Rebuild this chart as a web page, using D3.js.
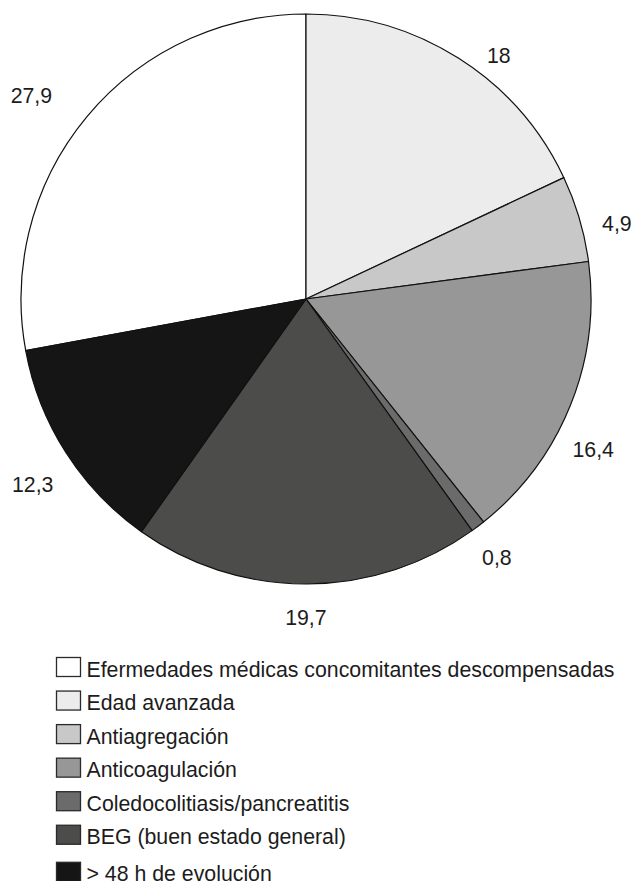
<!DOCTYPE html>
<html>
<head>
<meta charset="utf-8">
<script src="https://cdn.jsdelivr.net/npm/d3@7"></script>
<style>
  html, body { margin: 0; padding: 0; background: #ffffff; }
  svg { display: block; }
  text { font-family: "Liberation Sans", Arial, Helvetica, sans-serif; fill: #1c1c1c; }
</style>
</head>
<body>
<svg id="chart" width="636" height="881"></svg>
<script>
// ---- Data ----
const categories = [
  "Efermedades médicas concomitantes descompensadas",
  "Edad avanzada",
  "Antiagregación",
  "Anticoagulación",
  "Coledocolitiasis/pancreatitis",
  "BEG (buen estado general)",
  "> 48 h de evolución"
];
const values = [27.9, 18, 4.9, 16.4, 0.8, 19.7, 12.3];
const valueLabels = ["27,9", "18", "4,9", "16,4", "0,8", "19,7", "12,3"];

// ---- Styles / layout ----
const colors = ["#ffffff", "#ebeceb", "#c7c8c7", "#979797", "#6b6b6b", "#4c4c4b", "#151515"];
const labelAngleNudge = [-3.2, 5.9, 2.7, 5.6, 0.6, 0.2, -1.5]; // degrees
const labelDist = [342, 311, 320, 324, 321, 318, 330];
const cx = 306, cy = 299, radius = 285;
const fontSize = 21.3;
const lastRowExtraGap = 3.5;

const svg = d3.select("#chart");
const total = d3.sum(values);
// first category ends at 12 o'clock, the rest follow clockwise from 12 o'clock
const start = -values[0] / total * 2 * Math.PI;

const pie = d3.pie().sort(null).value(d => d)
  .startAngle(start).endAngle(start + 2 * Math.PI);
const arcs = pie(values);
const arc = d3.arc().innerRadius(0).outerRadius(radius);

const g = svg.append("g").attr("transform", `translate(${cx},${cy})`);
g.selectAll("path.slice")
  .data(arcs)
  .join("path")
  .attr("class", "slice")
  .attr("d", arc)
  .attr("fill", (d, i) => colors[i])
  .attr("stroke", "#111")
  .attr("stroke-width", 1.2)
  .attr("stroke-linejoin", "round");

// value labels
g.selectAll("text.val")
  .data(arcs)
  .join("text")
  .attr("class", "val")
  .attr("text-anchor", "middle")
  .attr("font-size", fontSize)
  .attr("x", (d, i) => {
    const a = (d.startAngle + d.endAngle) / 2 + labelAngleNudge[i] * Math.PI / 180;
    return Math.sin(a) * labelDist[i];
  })
  .attr("y", (d, i) => {
    const a = (d.startAngle + d.endAngle) / 2 + labelAngleNudge[i] * Math.PI / 180;
    return -Math.cos(a) * labelDist[i] + fontSize * 0.716 / 2;
  })
  .text((d, i) => valueLabels[i]);

// legend
const legendY = d3.scaleLinear().domain([0, categories.length - 1]).range([657, 858.3]);
const rowY = i => legendY(i) + (i === categories.length - 1 ? lastRowExtraGap : 0);
const leg = svg.append("g");
const items = leg.selectAll("g.item")
  .data(categories)
  .join("g")
  .attr("class", "item")
  .attr("transform", (d, i) => `translate(0,${rowY(i)})`);
items.append("rect")
  .attr("x", 56.5).attr("y", 0.5)
  .attr("width", 24).attr("height", 19)
  .attr("fill", (d, i) => colors[i])
  .attr("stroke", "#2a2a2a")
  .attr("stroke-width", 1.3);
items.append("text")
  .attr("x", 86.5)
  .attr("y", 19.5)
  .attr("font-size", fontSize)
  .text(d => d);
</script>
</body>
</html>
